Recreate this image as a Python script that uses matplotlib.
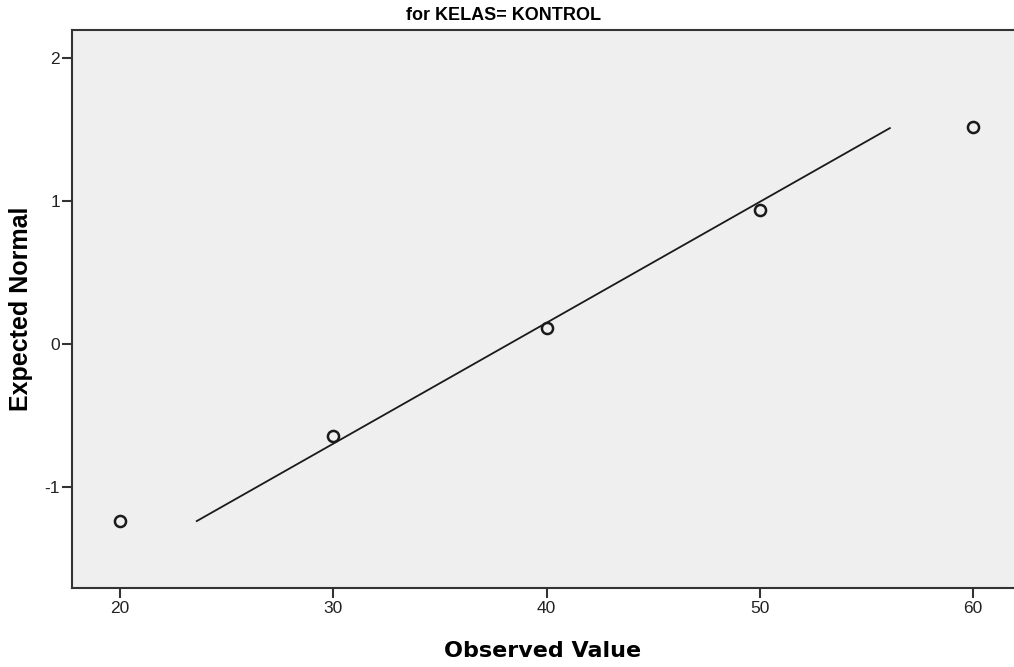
import numpy as np
import matplotlib
matplotlib.use("Agg")
import matplotlib.pyplot as plt

plt.rcParams["axes.unicode_minus"] = False

# Normal Q-Q plot, KELAS = KONTROL
observed = [20, 30, 40, 50, 60]
expected = [-1.238, -0.643, 0.112, 0.937, 1.517]

# reference line end points (observed value, expected normal)
line_x = [23.6, 56.1]
line_y = [-1.238, 1.51]

fig = plt.figure(figsize=(10.14, 6.67), dpi=100)
ax = fig.add_axes([72 / 1014, 1 - 588 / 667, 1 - 72 / 1014, (588 - 30) / 667])
ax.set_facecolor("#efefef")

ax.plot(line_x, line_y, color="#1a1a1a", lw=1.3)
ax.plot(observed, expected, "o", mfc="none", mec="#1a1a1a", mew=1.8, ms=8)

ax.set_xlim(17.75, 61.92)
ax.set_ylim(-1.706, 2.196)
ax.set_xticks([20, 30, 40, 50, 60])
ax.set_yticks([-1, 0, 1, 2])

for s in ["left", "bottom", "top"]:
    ax.spines[s].set_linewidth(1.5)
    ax.spines[s].set_color("#333333")
ax.spines["right"].set_visible(False)
ax.tick_params(length=7.5, width=1.5, color="#333333", labelsize=12.5,
               labelcolor="#222222")
ax.tick_params(axis="x", pad=2)
ax.tick_params(axis="y", pad=1)
for lab in ax.get_xticklabels() + ax.get_yticklabels():
    lab.set_family("Liberation Sans")

ax.set_xlabel("Observed Value", fontsize=16, fontweight="bold", va="center")
ax.xaxis.set_label_coords(0.5, (588 - 651) / 558)
ax.set_ylabel("Expected Normal", fontsize=18, fontweight="bold", va="center",
              family="Liberation Sans")
ax.yaxis.set_label_coords((21 - 72) / 942, 0.5)

fig.text(503 / 1014, 1 - 15 / 667, "for KELAS= KONTROL", ha="center", va="center",
         fontsize=13, fontweight="bold", family="Liberation Sans")

fig.savefig("out.png", dpi=100)
